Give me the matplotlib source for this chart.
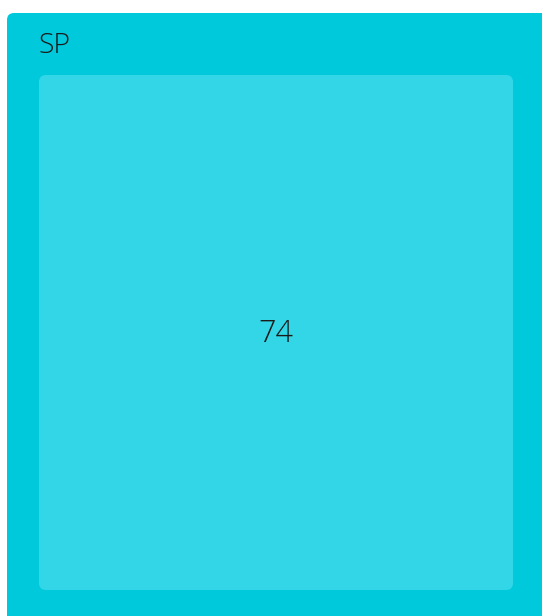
import matplotlib.pyplot as plt
from matplotlib.patches import FancyBboxPatch

# treemap node data
labels = ["SP"]
values = [74]

W, H = 542, 616
fig = plt.figure(figsize=(W / 100, H / 100), dpi=100)
ax = fig.add_axes([0, 0, 1, 1])
ax.set_xlim(0, W)
ax.set_ylim(H, 0)
ax.axis("off")

outer = FancyBboxPatch((7, 13), 560, 640, boxstyle="round,pad=0,rounding_size=7",
                       facecolor="#00c9db", edgecolor="none")
ax.add_patch(outer)
inner = FancyBboxPatch((39, 75), 474, 515, boxstyle="round,pad=0,rounding_size=7",
                       facecolor="#33d6e6", edgecolor="none")
ax.add_patch(inner)

ax.text(38, 46, labels[0], fontsize=20.5, family="Open Sans", fontweight="light",
        color="#1a1a1a", ha="left", va="center")
ax.text((39 + 513) / 2, 334, str(values[0]), fontsize=22, family="Open Sans",
        fontweight="light", color="#1a1a1a", ha="center", va="center")

fig.savefig("out.png", dpi=100)
